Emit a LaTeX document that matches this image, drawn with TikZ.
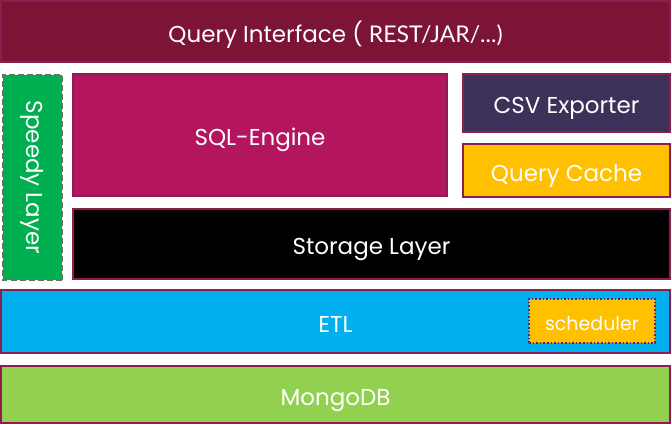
\documentclass[tikz,border=0pt]{standalone}
\usepackage{fontspec}
\setmainfont{Poppins}
\newfontfamily\narrowfont{Lato}
\definecolor{rimred}{HTML}{8E1D4F}
\definecolor{queryred}{HTML}{7C1436}
\definecolor{sqlpink}{HTML}{B3155F}
\definecolor{csvpurple}{HTML}{3D3059}
\definecolor{cacheyellow}{HTML}{FFC000}
\definecolor{etlblue}{HTML}{00B0EF}
\definecolor{mongogreen}{HTML}{92D050}
\definecolor{speedygreen}{HTML}{00B050}
\definecolor{dashgray}{HTML}{6E6E6E}
\definecolor{dotpurple}{HTML}{6A1B6A}

\begin{document}
\begin{tikzpicture}[x=1pt,y=-1pt]
\tikzstyle{layer}=[rectangle, draw=rimred, line width=1.3pt, inner sep=0pt, text=white, font=\fontsize{23}{26}\selectfont]
\tikzstyle{lowered}=[text height=27pt, text depth=6pt]
\tikzstyle{small}=[font=\fontsize{19}{22}\selectfont, text height=23pt, text depth=5pt]
\useasboundingbox (0,0) rectangle (672,424);
 \node[layer, lowered, fill=queryred, minimum width=669pt, minimum height=61pt] (query) at (335.5,31.5)
    {Query Interface ( {\narrowfont REST/JAR/...)}};
 \node[layer, fill=speedygreen, draw=dashgray, dash pattern=on 6pt off 3pt, line width=2pt, rotate=-90,
    minimum width=205pt, minimum height=59pt] (speedy) at (32,177.5) {Speedy Layer};
 \node[layer, lowered, fill=sqlpink, minimum width=374pt, minimum height=122pt] (sql) at (260,135) {SQL-Engine};
 \node[layer, lowered, fill=csvpurple, minimum width=207pt, minimum height=58pt] (csv) at (566.5,103) {CSV Exporter};
 \node[layer, lowered, fill=cacheyellow, minimum width=207pt, minimum height=53pt] (cache) at (566.5,170.5) {Query Cache};
 \node[layer, lowered, fill=black, minimum width=597pt, minimum height=70pt] (storage) at (371.5,244) {Storage Layer};
 \node[layer, lowered, fill=etlblue, minimum width=669pt, minimum height=63pt] (etl) at (335.5,321.5) {ETL};
 \node[layer, small, fill=cacheyellow, draw=dotpurple, dash pattern=on 1.6pt off 2pt, line width=1.8pt,
    minimum width=126pt, minimum height=44pt] (scheduler) at (592,321) {scheduler};
 \node[layer, lowered, fill=mongogreen, minimum width=669pt, minimum height=57pt] (mongo) at (335.5,394.5) {MongoDB};
\end{tikzpicture}
\end{document}
